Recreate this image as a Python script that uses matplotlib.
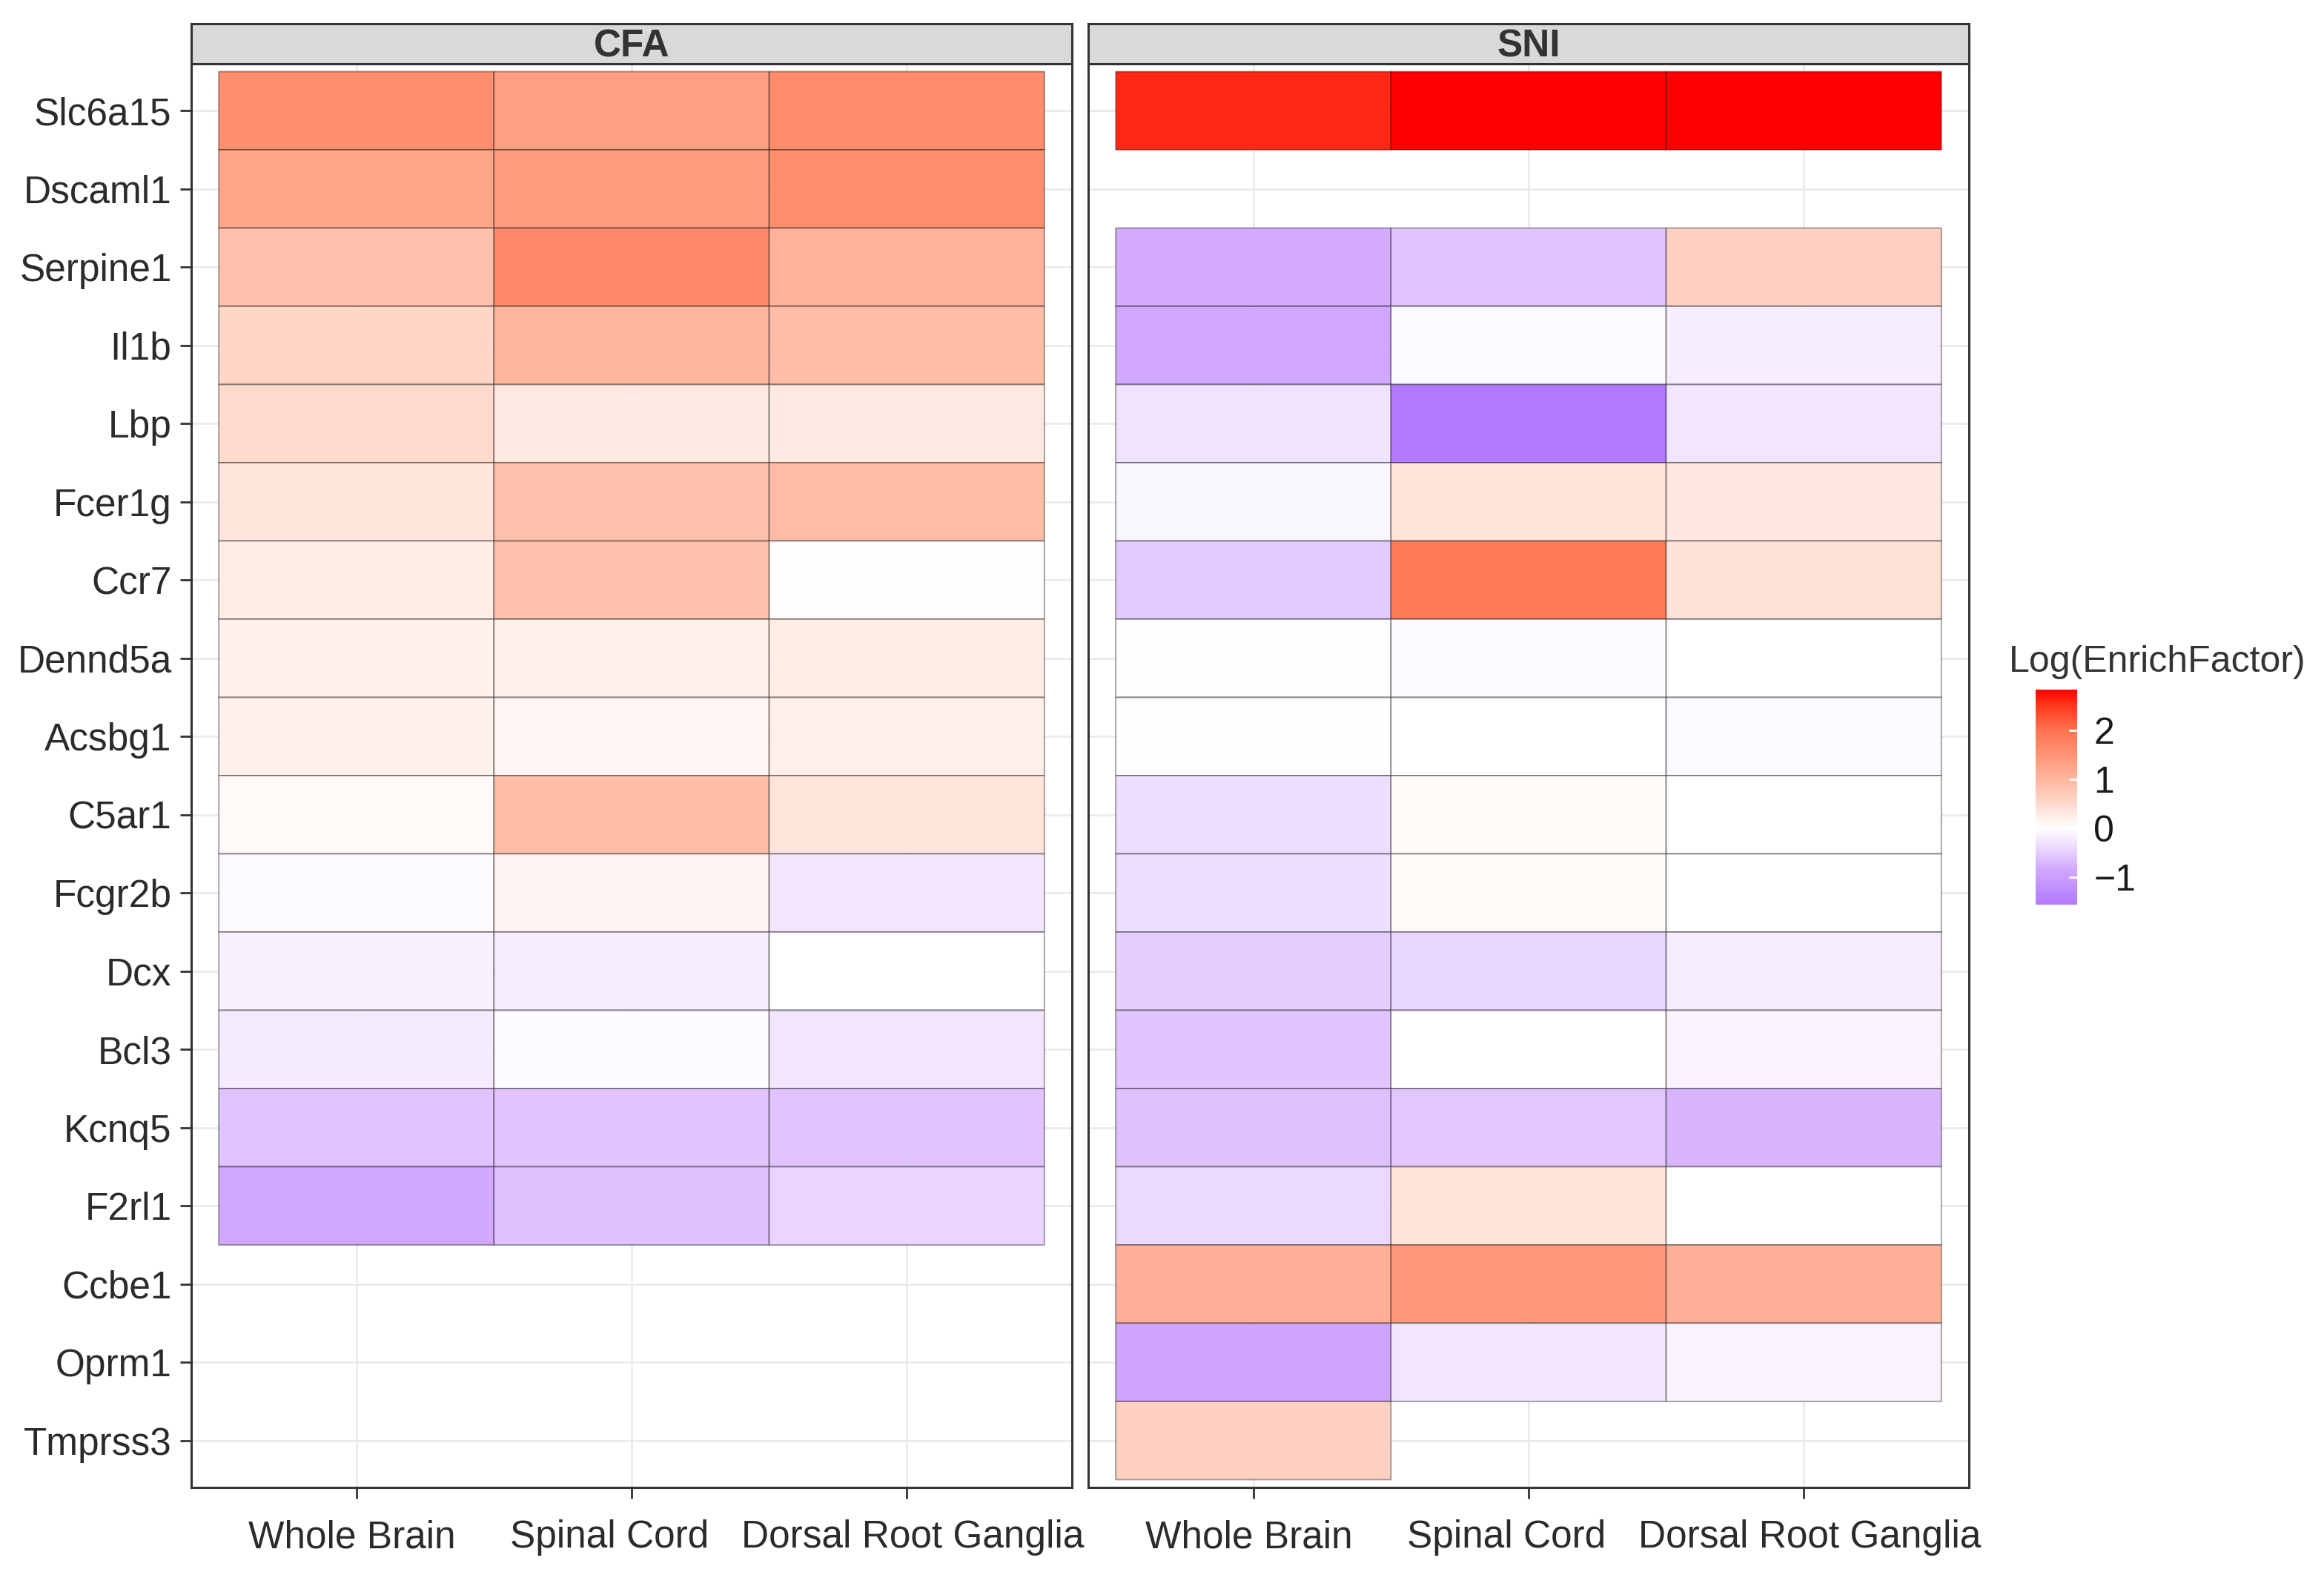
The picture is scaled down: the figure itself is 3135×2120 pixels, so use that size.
import numpy as np
import matplotlib
matplotlib.use("Agg")
import matplotlib.pyplot as plt
import matplotlib.transforms as mtransforms
from matplotlib.colors import LinearSegmentedColormap, Normalize
from matplotlib.cm import ScalarMappable

plt.rcParams['font.family'] = ['Liberation Sans', 'DejaVu Sans']

genes = ["Slc6a15", "Dscaml1", "Serpine1", "Il1b", "Lbp", "Fcer1g", "Ccr7",
         "Dennd5a", "Acsbg1", "C5ar1", "Fcgr2b", "Dcx", "Bcl3", "Kcnq5",
         "F2rl1", "Ccbe1", "Oprm1", "Tmprss3"]
tissues = ["Whole Brain", "Spinal Cord", "Dorsal Root Ganglia"]
nan = np.nan

# log(EnrichFactor), columns = Whole Brain, Spinal Cord, DRG
cfa_vals = [
    [1.60, 1.35, 1.65],
    [1.25, 1.40, 1.60],
    [0.85, 1.70, 1.05],
    [0.55, 1.00, 0.90],
    [0.50, 0.30, 0.30],
    [0.35, 0.85, 0.90],
    [0.25, 0.85, 0.02],
    [0.20, 0.22, 0.25],
    [0.20, 0.12, 0.22],
    [0.08, 0.90, 0.35],
    [-0.05, 0.15, -0.25],
    [-0.15, -0.20, 0.00],
    [-0.22, -0.04, -0.27],
    [-0.60, -0.60, -0.60],
    [-0.85, -0.62, -0.45],
    [nan, nan, nan],
    [nan, nan, nan],
    [nan, nan, nan],
]
sni_vals = [
    [2.60, 2.84, 2.84],
    [nan, nan, nan],
    [-0.80, -0.60, 0.65],
    [-0.88, -0.06, -0.18],
    [-0.30, -1.57, -0.27],
    [-0.10, 0.38, 0.32],
    [-0.52, 1.90, 0.40],
    [-0.03, -0.05, 0.00],
    [0.02, 0.00, -0.05],
    [-0.35, 0.06, 0.01],
    [-0.35, 0.06, 0.00],
    [-0.50, -0.43, -0.20],
    [-0.58, 0.00, -0.12],
    [-0.62, -0.56, -0.72],
    [-0.40, 0.38, 0.00],
    [1.10, 1.45, 1.10],
    [-0.90, -0.27, -0.14],
    [0.62, nan, nan],
]
panels = ["CFA", "SNI"]

vmin, vmax = -1.57, 2.84
anchors = [(-1.57, "#B27AFF"), (-0.8, "#D4ACFF"), (-0.4, "#ECDAFF"),
           (0.0, "#FFFFFF"), (0.5, "#FFDACD"), (1.0, "#FFB69E"),
           (1.5, "#FF9676"), (2.0, "#FF7352"), (2.5, "#FF3C1E"),
           (2.84, "#FF0000")]
cmap = LinearSegmentedColormap.from_list(
    "enrich", [((v - vmin) / (vmax - vmin), c) for v, c in anchors])
norm = Normalize(vmin=vmin, vmax=vmax)

W, H = 3135, 2120
fig = plt.figure(figsize=(W / 200, H / 200), dpi=200)
fig.patch.set_facecolor("white")

border = "#333333"
lefts = [258, 1468]
pw = 1188
top, bottom = 86, 2006
strip_h = 54

# small horizontal nudges (in px) of x labels, as in the original layout
label_shift = [-6, -30, 8]

xe = np.arange(len(tissues) + 1) + 0.5
ye = np.arange(len(genes) + 1) + 0.5

for k, (name, vals) in enumerate(zip(panels, [cfa_vals, sni_vals])):
    ax = fig.add_axes([lefts[k] / W, 1 - bottom / H, pw / W, (bottom - top) / H])
    data = np.ma.masked_invalid(np.array(vals))
    ax.pcolor(xe, ye, data, cmap=cmap, norm=norm,
              edgecolors=(0, 0, 0, 0.35), linewidth=0.7, zorder=2)
    ax.set_xlim(0.4, 3.6)
    ax.set_ylim(len(genes) + 0.6, 0.4)
    ax.set_xticks(np.arange(1, len(tissues) + 1))
    ax.set_xticklabels(tissues)
    ax.set_yticks(np.arange(1, len(genes) + 1))
    if k == 0:
        ax.set_yticklabels(genes)
    else:
        ax.set_yticklabels([])
    ax.grid(True, color="#EBEBEB", linewidth=1.0, zorder=0)
    ax.set_axisbelow(True)
    ax.tick_params(axis="both", length=5.5, width=1.0, color=border,
                   labelsize=18.5, labelcolor="#2b2b2b", pad=4)
    ax.tick_params(axis="x", pad=10)
    if k == 1:
        ax.tick_params(axis="y", length=0)
    for lab, dx in zip(ax.get_xticklabels(), label_shift):
        off = mtransforms.ScaledTranslation(dx / 200, 0, fig.dpi_scale_trans)
        lab.set_transform(lab.get_transform() + off)
    for sp in ax.spines.values():
        sp.set_color(border)
        sp.set_linewidth(1.1)

    sax = fig.add_axes([lefts[k] / W, 1 - top / H, pw / W, strip_h / H])
    sax.set_facecolor("#D9D9D9")
    sax.set_xticks([])
    sax.set_yticks([])
    for sp in sax.spines.values():
        sp.set_color(border)
        sp.set_linewidth(1.1)
    sax.text(0.5, 0.42, name, transform=sax.transAxes, ha="center", va="center",
             fontsize=18.5, fontweight="bold", color="#333333")

# colour bar legend
cax = fig.add_axes([2746 / W, 1 - 1220 / H, 56 / W, 290 / H])
cb = fig.colorbar(ScalarMappable(norm=norm, cmap=cmap), cax=cax,
                  ticks=[-1, 0, 1, 2])
cb.outline.set_visible(False)
cb.ax.set_yticklabels(["\u22121", "0", "1", "2"])
cb.ax.tick_params(direction="in", length=4, width=1.0, color="white",
                  labelsize=18, labelcolor="#1a1a1a", pad=8)
fig.text(2710 / W, 1 - 893 / H, "Log(EnrichFactor)", ha="left", va="center",
         fontsize=18, color="#333333")

fig.savefig("out.png", dpi=200, facecolor="white")
